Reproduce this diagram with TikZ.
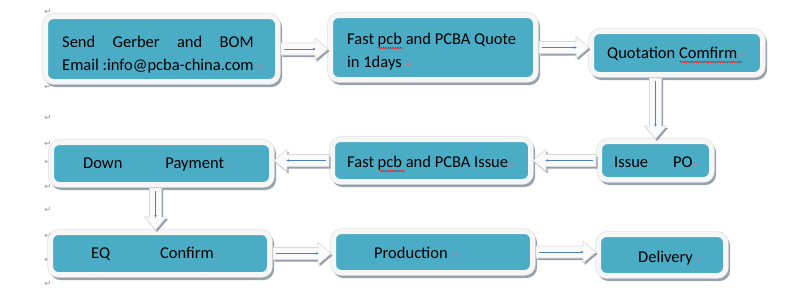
\documentclass[tikz,border=0pt]{standalone}
\usepackage{fontspec}
\setmainfont{Carlito}
\newfontfamily\symfont{DejaVu Sans}
\usepackage{calc}
\usepackage{xcolor}
\usepackage{tikz}
\usetikzlibrary{arrows.meta, decorations.pathmorphing}

\definecolor{boxteal}{RGB}{75,172,198}
\definecolor{framewhite}{RGB}{246,246,246}
\definecolor{boxshadow}{RGB}{150,162,172}
\definecolor{arrshadow}{RGB}{150,158,170}
\definecolor{arrblue}{RGB}{79,129,189}
\definecolor{markred}{RGB}{190,130,130}

\newcommand{\retsign}{{\symfont\fontsize{8.5}{8}\selectfont\textcolor{markred}{↵}}}

% hollow block arrow between two points, with the thin blue arrow inside
\newcommand{\blockarrow}[2]{%
  \path (#1); \pgfgetlastxy{\ax}{\ay}%
  \path (#2); \pgfgetlastxy{\bx}{\by}%
  \pgfmathsetmacro{\aang}{atan2((\by)-(\ay),(\bx)-(\ax))}%
  \pgfmathsetmacro{\alen}{veclen((\bx)-(\ax),(\by)-(\ay))}%
  \begin{scope}[shift={(\ax,\ay)}, xshift=1.5pt, yshift=-2pt, rotate=\aang]
    \fill[arrshadow] (1pt,-6pt) -- (\alen pt-13pt,-6pt) -- (\alen pt-13pt,-11pt)
      -- (\alen pt,0pt) -- (\alen pt-13pt,11pt) -- (\alen pt-13pt,6pt) -- (1pt,6pt) -- cycle;
  \end{scope}
  \begin{scope}[shift={(\ax,\ay)}, rotate=\aang]
    \filldraw[arrbody] (1pt,-6pt) -- (\alen pt-13pt,-6pt) -- (\alen pt-13pt,-11pt)
      -- (\alen pt,0pt) -- (\alen pt-13pt,11pt) -- (\alen pt-13pt,6pt) -- (1pt,6pt) -- cycle;
    \draw[thinarr] (4pt,0pt) -- (\alen pt-12pt,0pt);
  \end{scope}}

\begin{document}
\begin{tikzpicture}[
  x=1pt, y=-1pt,
  box/.style={rounded corners=8pt, inner sep=0pt, fill=boxteal, draw=framewhite, line width=5pt,
    preaction={draw=boxshadow, fill=boxshadow, line width=5pt, transform canvas={xshift=2pt, yshift=-3pt}},
    preaction={draw=gray!25, line width=6.2pt}},
  txt/.style={anchor=base west, inner sep=0pt, font=\fontsize{16.5}{20}\selectfont, text=black},
  retgray/.style={inner sep=0pt, font=\symfont\fontsize{8.5}{8}\selectfont, text=gray!85},
  arrbody/.style={fill=gray!4, draw=gray!30, line width=0.6pt},
  thinarr/.style={arrblue, line width=0.6pt, -{Latex[length=3pt, width=2.6pt]}},
  spellwave/.style={red, line width=0.45pt, decorate, decoration={snake, amplitude=0.7pt, segment length=2.4pt}}
]
  \useasboundingbox (0,0) rectangle (800,300);

  % paragraph marks in the left margin
  \foreach \yy [count=\i] in {12,87,118,144,162,187,210,236,260,284} {
    \node[retgray] (m\i) at (48,\yy) {↵};
  }

  % boxes
  \node[box, minimum width=232pt, minimum height=65pt] (b1) at (161.5,49) {};
  \node[box, minimum width=205pt, minimum height=64pt] (b2) at (433,47.5) {};
  \node[box, minimum width=171pt, minimum height=43pt] (b3) at (677,53) {};
  \node[box, minimum width=112pt, minimum height=38pt] (b4) at (655.5,160.5) {};
  \node[box, minimum width=198pt, minimum height=42pt] (b5) at (431.5,160.5) {};
  \node[box, minimum width=220pt, minimum height=42pt] (b6) at (161.5,163.5) {};
  \node[box, minimum width=219pt, minimum height=42pt] (b7) at (160,253.5) {};
  \node[box, minimum width=199pt, minimum height=41pt] (b8) at (433,252) {};
  \node[box, minimum width=127pt, minimum height=41pt] (b9) at (662,255) {};

  % texts
  \node[txt] (t1a) at (62,47) {\makebox[\widthof{Email :info@pcba-china.com}][s]{Send Gerber and BOM}};
  \node[txt] (t1b) at (62,70) {Email :info@pcba-china.com \retsign};
  \node[txt] (t2a) at (347,44) {Fast pcb and PCBA Quote};
  \node[txt] (t2b) at (347,67) {in 1days \retsign};
  \node[txt] (t3) at (607,58) {Quotation Comfirm\retsign};
  \node[txt] (t4) at (614,167) {Issue\hspace{25pt}PO\retsign};
  \node[txt] (t5) at (347,167) {Fast pcb and PCBA Issue\retsign};
  \node[txt] (t6) at (83,168) {Down\hspace{43pt}Payment\retsign};
  \node[txt] (t7) at (91,258) {EQ\hspace{50pt}Confirm\retsign};
  \node[txt] (t8) at (374,258) {Production \retsign};
  \node[txt] (t9) at (638,262) {Delivery \retsign};

  % spelling marks
  \draw[spellwave] (378,48) -- (403,48);
  \draw[spellwave] (380,171) -- (405,171);
  \draw[spellwave] (680,62) -- (742,62);

  % arrows
  \blockarrow{b1.east}{b1.east -| b2.west}
  \blockarrow{b2.east}{b2.east -| b3.west}
  \blockarrow{b4.north |- b3.south}{b4.north}
  \blockarrow{b4.west}{b4.west -| b5.east}
  \blockarrow{b5.west}{b5.west -| b6.east}
  \blockarrow{[xshift=-6pt]b6.south}{[xshift=-6pt]b6.south |- b7.north}
  \blockarrow{b7.east}{b7.east -| b8.west}
  \blockarrow{b8.east}{b8.east -| b9.west}
\end{tikzpicture}
\end{document}
